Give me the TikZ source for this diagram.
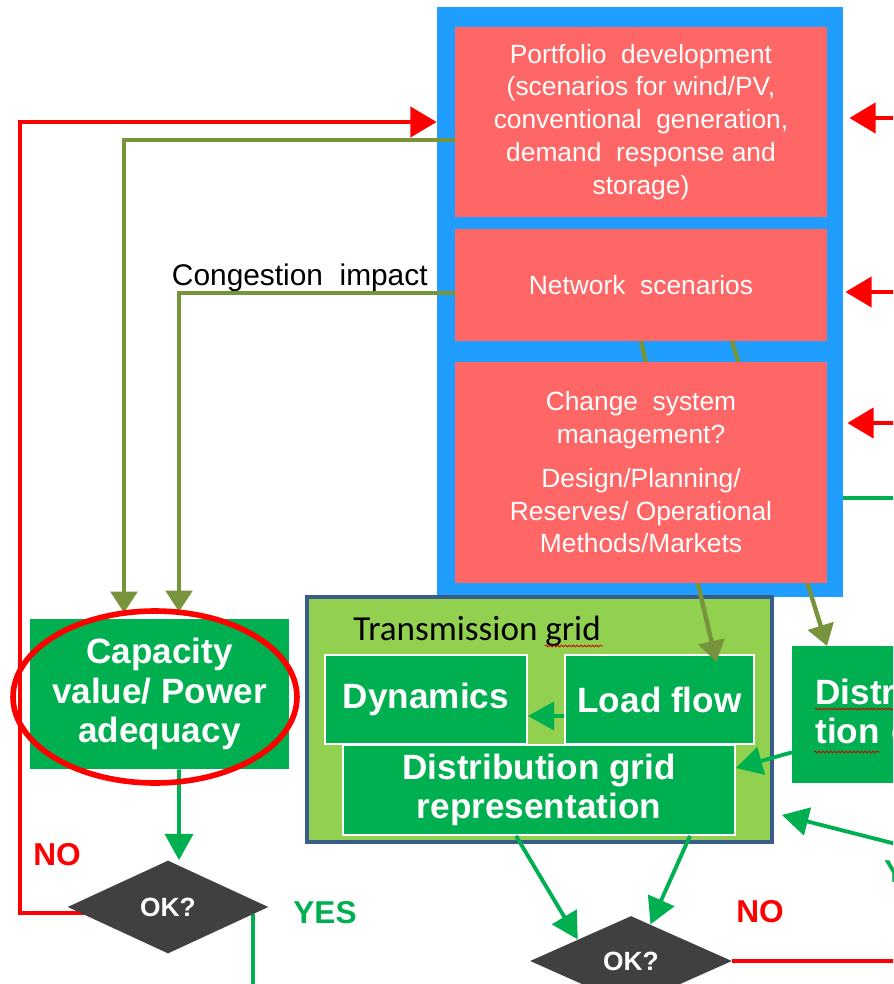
\documentclass[tikz,border=0pt]{standalone}
\usepackage{fontspec}
\setmainfont{Liberation Sans}
\newfontfamily\calibri{Carlito}
\usetikzlibrary{shapes.geometric,arrows.meta,decorations.pathmorphing}
\definecolor{frameblue}{RGB}{31,158,255}
\definecolor{boxred}{RGB}{255,102,102}
\definecolor{boxgreen}{RGB}{0,176,80}
\definecolor{lightgreen}{RGB}{146,208,80}
\definecolor{edgeblue}{RGB}{56,93,138}
\definecolor{olivearrow}{RGB}{119,147,60}
\definecolor{okgray}{RGB}{64,64,64}
\pgfdeclarelayer{front}
\pgfsetlayers{main,front}
\begin{document}
\begin{tikzpicture}[x=0.02cm,y=-0.02cm,
  redbox/.style={rectangle,fill=boxred,text=white,align=center,inner sep=0pt,minimum width=7.44cm,font=\fontsize{15}{18.7}\selectfont},
  greenbox/.style={rectangle,fill=boxgreen,text=white,align=center,inner sep=0pt,font=\bfseries\fontsize{20}{22.5}\selectfont},
  innerbox/.style={greenbox,draw=white,line width=1pt},
  okbox/.style={diamond,fill=okgray,text=white,inner sep=0pt,font=\bfseries\fontsize{15}{18}\selectfont},
  oliveline/.style={draw=olivearrow,line width=2.5pt,-{Triangle[length=12pt,width=15pt]}},
  greenline/.style={draw=boxgreen,line width=2.2pt,-{Triangle[length=15pt,width=16pt]}},
  redline/.style={draw=red,line width=2.8pt,-{Triangle[length=15pt,width=17pt]}},
  answer/.style={font=\bfseries\fontsize{18}{20}\selectfont},
  squiggle/.style={draw=red!80!black,line width=0.5pt,decorate,decoration={snake,amplitude=0.5pt,segment length=2.2pt}}]
\useasboundingbox (0,0) rectangle (893,984);
\clip (0,0) rectangle (893,984);

\node[fill=frameblue,minimum width=8.12cm,minimum height=11.8cm,inner sep=0pt] (frame) at (640,302) {};
\node[redbox,minimum height=3.8cm] (port) at (641,122) {Portfolio\ \ development\\(scenarios for wind/PV,\\conventional\ \ generation,\\demand\ \ response and\\storage)};
\node[redbox,minimum height=2.24cm] (net) at (641,285) {Network\ \ scenarios};
\begin{pgfonlayer}{front}
\node[redbox,minimum height=4.42cm] (chg) at (641,472.5) {Change\ \ system\\management?\\[6pt]Design/Planning/\\Reserves/ Operational\\Methods/Markets};
\node[okbox,minimum width=4.02cm,minimum height=1.86cm] (ok1) at (168,907) {OK?};
\node[okbox,minimum width=4.04cm,minimum height=1.8cm] (ok2) at (631,961) {OK?};
\end{pgfonlayer}
\node[font=\fontsize{17}{19}\selectfont,anchor=base east,inner sep=0pt] (cong) at (428,285) {Congestion\ \ impact};

\node[greenbox,minimum width=5.18cm,minimum height=3cm] (cap) at (159.5,694) {Capacity\\value/ Power\\adequacy};
\node[fill=lightgreen,draw=edgeblue,line width=2.3pt,minimum width=9.3cm,minimum height=4.9cm,inner sep=0pt] (tg) at (539.5,719.5) {};
\node[font=\calibri\fontsize{20}{22}\selectfont,anchor=base west,inner sep=0pt] (tgl) at (353,640) {Transmission grid};
\node[innerbox,minimum width=4.04cm,minimum height=1.78cm] (dyn) at (426,699.5) {Dynamics};
\node[innerbox,minimum width=3.78cm,minimum height=1.78cm] (lf) at (659.5,699.5) {Load flow};
\node[innerbox,minimum width=7.84cm,minimum height=1.8cm] (dr) at (539,790) {Distribution grid\\representation};
\node[greenbox,anchor=north west,minimum height=2.74cm,text width=3.6cm,align=left,inner xsep=0.46cm] (dist) at (792,646) {Distribu-\\tion grid};

\node[answer,text=red] (no1) at (57,855) {NO};
\node[answer,text=boxgreen] (yes1) at (325,913) {YES};
\node[answer,text=red] (no2) at (760,912) {NO};
\node[answer,text=boxgreen,anchor=west] (yes2) at (878,872) {YES};

\coordinate (r1) at (900,118);
\coordinate (r2) at (900,292);
\coordinate (r3) at (900,423);
\coordinate (g1) at (900,498);
\coordinate (yesin) at (900,845);
\coordinate (noout) at (900,961);
\coordinate (yesdown) at (252,995);

\draw[redline] ([yshift=-0.12cm]ok1.center) -- ++(-148,0) |- (frame.west |- port);
\draw[oliveline,shorten >=0.12cm] ([yshift=-0.36cm]port.west) -| ([xshift=-0.71cm]cap.north);
\draw[oliveline,shorten >=0.14cm] ([yshift=-0.16cm]net.west) -| ([xshift=0.39cm]cap.north);
\draw[oliveline,shorten >=-0.16cm] (net.south) -- ([xshift=1.1cm]lf.north);
\draw[oliveline] ([xshift=1.82cm]net.south) -- ([xshift=0.7cm]dist.north west);
\draw[greenline] ([xshift=0.39cm]cap.south) -- ([xshift=0.22cm]ok1.north);
\draw[draw=boxgreen,line width=2.2pt] (ok1.-5) -- (ok1.-5 |- yesdown);
\draw[greenline] ([yshift=-0.33cm]lf.west) -- ([yshift=-0.33cm]dyn.east);
\draw[greenline] ([yshift=-0.75cm]dist.west) -- ([yshift=0.44cm]dr.east);
\draw[greenline] (yesin) -- ([xshift=0.16cm,yshift=-1.91cm]tg.east);
\draw[greenline] ([xshift=-0.46cm]dr.south) -- (ok2.158);
\draw[greenline] ([xshift=3.02cm]dr.south) -- (ok2.62);
\draw[draw=boxgreen,line width=2.2pt] (g1 -| frame.east) -- (g1);
\draw[redline,shorten >=0.12cm] (r1) -- (r1 -| frame.east);
\draw[redline,shorten >=0.04cm] (r2) -- (r2 -| frame.east);
\draw[redline,shorten >=0.08cm] (r3) -- (r3 -| frame.east);
\draw[draw=red,line width=2.8pt] (ok2.east) -- (noout);

\draw[red,line width=3.2pt] (155,697) ellipse [x radius=2.84cm,y radius=1.72cm];
\draw[squiggle] (545,646) -- (603,646);
\draw[squiggle] (815,709) -- (900,709);
\draw[squiggle] (814,752) -- (880,752);
\end{tikzpicture}
\end{document}
